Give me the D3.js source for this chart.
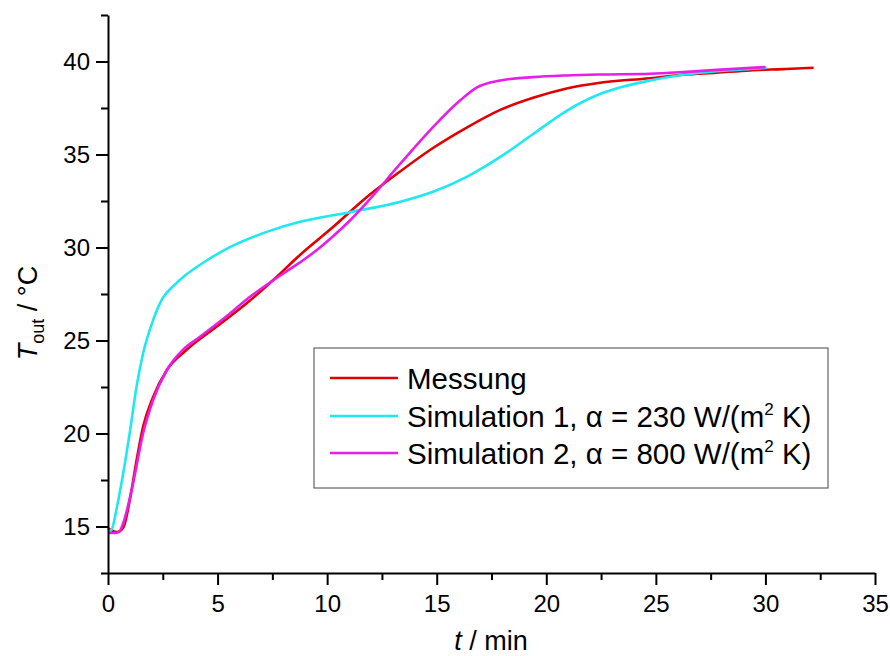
<!DOCTYPE html>
<html>
<head>
<meta charset="utf-8">
<script src="https://cdn.jsdelivr.net/npm/d3@7"></script>
<style>
  html, body { margin: 0; padding: 0; background: #fff; }
  svg { display: block; font-family: "Liberation Sans", Arial, sans-serif; }
</style>
</head>
<body>
<svg id="chart" width="890" height="656"></svg>
<script>
// ---- data ----
const timeMessung = [0, 0.1, 0.4, 0.7, 1.0, 1.31, 1.6, 2.06, 2.68, 3.59, 4.96, 6.33, 7.54, 8.76, 10.27, 11.8, 13.3, 14.83, 16.37, 17.9, 19.4, 20.93, 22.45, 24.73, 26.25, 27.78, 29.3, 30.8, 32.2];
const messung     = [14.9, 14.83, 14.7, 14.95, 16.45, 18.6, 20.36, 21.97, 23.4, 24.5, 25.75, 27.0, 28.25, 29.6, 31.1, 32.7, 34.06, 35.35, 36.45, 37.4, 38.05, 38.55, 38.86, 39.1, 39.29, 39.4, 39.52, 39.59, 39.66];

const timeSim1 = [0, 0.15, 0.4, 0.7, 1.0, 1.3, 1.6, 2.06, 2.51, 3.0, 3.42, 4.5, 5.7, 7.24, 8.76, 11.04, 13.3, 14.83, 16.37, 17.9, 19.4, 20.93, 22.45, 23.2, 24.73, 26.25, 27.78, 29.3, 30.06];
const sim1     = [14.75, 14.8, 16.0, 17.9, 20.1, 22.5, 24.3, 26.1, 27.3, 27.95, 28.4, 29.3, 30.1, 30.84, 31.38, 31.9, 32.45, 33.0, 33.8, 34.87, 36.1, 37.35, 38.25, 38.55, 38.98, 39.29, 39.48, 39.6, 39.66];

const timeSim2 = [0, 0.3, 0.5, 0.7, 1.15, 1.6, 2.06, 2.68, 3.42, 4.2, 5.41, 6.48, 8.0, 8.76, 9.52, 10.27, 11.04, 11.8, 13.3, 14.83, 16.06, 16.82, 17.9, 19.4, 20.93, 22.45, 24.73, 26.25, 27.78, 30.0];
const sim2     = [14.65, 14.65, 14.7, 15.2, 17.35, 20.0, 21.8, 23.4, 24.5, 25.2, 26.3, 27.35, 28.6, 29.2, 29.85, 30.6, 31.45, 32.4, 34.45, 36.47, 37.9, 38.6, 38.98, 39.16, 39.25, 39.3, 39.34, 39.43, 39.55, 39.7];

const xMajorTicks = [0, 5, 10, 15, 20, 25, 30, 35];
const xMinorTicks = [2.5, 7.5, 12.5, 17.5, 22.5, 27.5, 32.5];
const yMajorTicks = [15, 20, 25, 30, 35, 40];
const yMinorTicks = [12.5, 17.5, 22.5, 27.5, 32.5, 37.5, 42.5];

const seriesNames  = ["Messung", "Simulation 1, \u03B1 = 230 W/(m", "Simulation 2, \u03B1 = 800 W/(m"];
const seriesColors = ["#e00000", "#1ee8f0", "#e81ee8"];

// ---- layout ----
const svg = d3.select("#chart");
const x = d3.scaleLinear().domain([0, 35]).range([108, 875]);
const y = d3.scaleLinear().domain([12.5, 42.5]).range([573, 15]);

const series = [
  { t: timeMessung, v: messung, color: seriesColors[0] },
  { t: timeSim1, v: sim1, color: seriesColors[1] },
  { t: timeSim2, v: sim2, color: seriesColors[2] }
];

const line = d3.line()
  .x(d => x(d[0]))
  .y(d => y(d[1]))
  .curve(d3.curveMonotoneX);

series.forEach(s => {
  svg.append("path")
    .datum(s.t.map((t, i) => [t, s.v[i]]))
    .attr("fill", "none")
    .attr("stroke", s.color)
    .attr("stroke-width", 2.6)
    .attr("stroke-linejoin", "round")
    .attr("d", line);
});

// ---- axes ----
function styleAxis(g) {
  g.selectAll("path.domain").attr("stroke", "#000").attr("stroke-width", 2);
  g.selectAll(".tick line").attr("stroke", "#000").attr("stroke-width", 2);
  g.selectAll(".tick text").attr("fill", "#000").style("font-size", "24px")
    .style("font-family", "'Liberation Sans', Arial, sans-serif");
}

const yMinor = svg.append("g").attr("transform", "translate(108,0)")
  .call(d3.axisLeft(y).tickValues(yMinorTicks).tickSize(7).tickFormat(""));
yMinor.select("path.domain").remove();
styleAxis(yMinor);

const xMinor = svg.append("g").attr("transform", "translate(0,573)")
  .call(d3.axisBottom(x).tickValues(xMinorTicks).tickSize(7).tickFormat(""));
xMinor.select("path.domain").remove();
styleAxis(xMinor);

const yAxis = svg.append("g").attr("transform", "translate(108,0)")
  .call(d3.axisLeft(y).tickValues(yMajorTicks).tickSize(12).tickSizeOuter(0).tickPadding(6).tickFormat(d3.format("d")));
styleAxis(yAxis);

const xAxis = svg.append("g").attr("transform", "translate(0,573)")
  .call(d3.axisBottom(x).tickValues(xMajorTicks).tickSize(12).tickSizeOuter(0).tickPadding(10).tickFormat(d3.format("d")));
styleAxis(xAxis);

// ---- axis titles ----
const xTitle = svg.append("text")
  .attr("x", 491).attr("y", 650)
  .attr("text-anchor", "middle")
  .style("font-size", "27px").attr("fill", "#000");
xTitle.append("tspan").style("font-style", "italic").text("t");
xTitle.append("tspan").text(" / min");

const yTitle = svg.append("text")
  .attr("transform", "translate(37,313) rotate(-90)")
  .attr("text-anchor", "middle")
  .style("font-size", "27px").attr("fill", "#000");
yTitle.append("tspan").style("font-style", "italic").text("T");
yTitle.append("tspan").attr("dy", 7).style("font-size", "18px").text("out");
yTitle.append("tspan").attr("dy", -7).text(" / \u00B0C");

// ---- legend ----
const legend = svg.append("g");
legend.append("rect")
  .attr("x", 314).attr("y", 348).attr("width", 514).attr("height", 140)
  .attr("fill", "#fff").attr("stroke", "#444").attr("stroke-width", 1);

const rowY = [378, 416, 453];
seriesNames.forEach((name, i) => {
  legend.append("line")
    .attr("x1", 330).attr("x2", 398).attr("y1", rowY[i]).attr("y2", rowY[i])
    .attr("stroke", seriesColors[i]).attr("stroke-width", 2.6);
  const t = legend.append("text")
    .attr("x", 407).attr("y", rowY[i]).attr("dy", "0.36em")
    .style("font-size", "29.5px").attr("fill", "#000");
  t.append("tspan").text(name);
  if (i > 0) {
    t.append("tspan").attr("dy", -12).style("font-size", "17px").text("2");
    t.append("tspan").attr("dy", 12).text(" K)");
  }
});
</script>
</body>
</html>
